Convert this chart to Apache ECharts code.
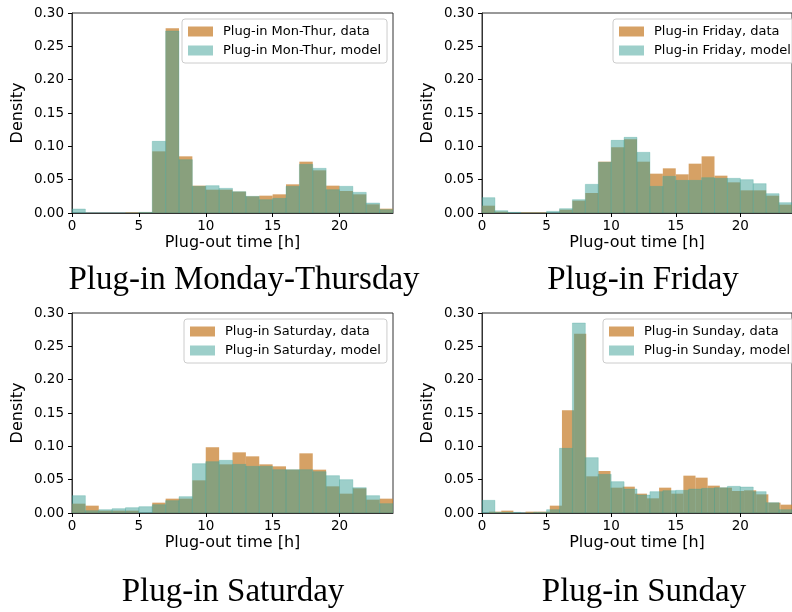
<!DOCTYPE html>
<html>
<head>
<meta charset="utf-8">
<script src="https://cdn.jsdelivr.net/npm/echarts@6/dist/echarts.min.js"></script>
<style>
  html, body { margin: 0; padding: 0; background: #fff; }
  #chart { width: 792px; height: 612px; }
</style>
</head>
<body>
<div id="chart"></div>
<script>
// hourly bins 0..24
var hourEdges = [0,1,2,3,4,5,6,7,8,9,10,11,12,13,14,15,16,17,18,19,20,21,22,23,24];
// sunday data histogram uses its own bins
var sundayDataEdges = [0.55,1.49,2.43,3.37,4.31,5.25,6.19,7.13,8.07,9.01,9.95,10.89,11.83,12.77,13.71,14.65,15.59,16.53,17.47,18.41,19.35,20.29,21.23,22.17,23.11,24.05];

var xTicks = [0, 5, 10, 15, 20];
var panelTitles = ['Plug-in Monday-Thursday', 'Plug-in Friday', 'Plug-in Saturday', 'Plug-in Sunday'];
var dataNames = ['Plug-in Mon-Thur, data', 'Plug-in Friday, data', 'Plug-in Saturday, data', 'Plug-in Sunday, data'];
var modelNames = ['Plug-in Mon-Thur, model', 'Plug-in Friday, model', 'Plug-in Saturday, model', 'Plug-in Sunday, model'];

var monThurData  = [0, 0, 0, 0, 0.001, 0.001, 0.0925, 0.277, 0.085, 0.041, 0.035, 0.035, 0.032, 0.025, 0.026, 0.028, 0.043, 0.077, 0.064, 0.041, 0.033, 0.028, 0.013, 0.0065];
var monThurModel = [0.006, 0, 0, 0, 0, 0.001, 0.1075, 0.273, 0.080, 0.040, 0.041, 0.037, 0.032, 0.025, 0.020, 0.022, 0.040, 0.073, 0.067, 0.035, 0.040, 0.031, 0.015, 0.005];

var fridayData  = [0.011, 0.002, 0, 0.001, 0.001, 0, 0.005, 0.0185, 0.030, 0.077, 0.0985, 0.1105, 0.077, 0.059, 0.067, 0.058, 0.074, 0.085, 0.056, 0.046, 0.034, 0.034, 0.026, 0.0125];
var fridayModel = [0.023, 0.0035, 0.001, 0, 0, 0.0025, 0.0065, 0.020, 0.043, 0.076, 0.109, 0.1135, 0.091, 0.040, 0.055, 0.049, 0.049, 0.053, 0.052, 0.052, 0.050, 0.044, 0.029, 0.0155];

var saturdayData  = [0.014, 0.011, 0.0035, 0.0035, 0.0035, 0, 0.0155, 0.0215, 0.0215, 0.049, 0.0985, 0.073, 0.091, 0.085, 0.073, 0.070, 0.065, 0.0895, 0.065, 0.040, 0.029, 0.037, 0.020, 0.0215];
var saturdayModel = [0.026, 0.0035, 0.005, 0.0065, 0.008, 0.0095, 0.0125, 0.0185, 0.0245, 0.074, 0.077, 0.079, 0.073, 0.070, 0.070, 0.065, 0.065, 0.065, 0.062, 0.056, 0.050, 0.038, 0.026, 0.014];

var sundayData  = [0.002, 0.0035, 0, 0.002, 0.002, 0.011, 0.154, 0.269, 0.055, 0.063, 0.038, 0.0395, 0.029, 0.022, 0.038, 0.029, 0.056, 0.053, 0.041, 0.038, 0.033, 0.034, 0.028, 0.0155, 0.0125];
var sundayModel = [0.019, 0.001, 0.001, 0, 0.001, 0.005, 0.097, 0.285, 0.083, 0.058, 0.047, 0.036, 0.027, 0.032, 0.0335, 0.034, 0.036, 0.037, 0.038, 0.040, 0.039, 0.032, 0.0155, 0.005];

var dataSets = [
    [hourEdges, monThurData, hourEdges, monThurModel],
    [hourEdges, fridayData, hourEdges, fridayModel],
    [hourEdges, saturdayData, hourEdges, saturdayModel],
    [sundayDataEdges, sundayData, hourEdges, sundayModel]
];

var dataColor = 'rgba(200,130,50,0.75)';
var modelColor = 'rgba(60,160,150,0.5)';

// panel layout
var gridLeft = [72, 482, 72, 482];
var gridTop = [13, 13, 313, 313];
var legendLeft = [182, 613, 184, 603];
var titleX = [244, 643, 233, 644];
var titleY = [264, 264, 576, 576];

function toBins(edges, heights) {
    var out = [];
    for (var i = 0; i < heights.length; i++) {
        out.push([edges[i], edges[i + 1], heights[i]]);
    }
    return out;
}

function renderBin(params, api) {
    var p0 = api.coord([api.value(0), api.value(2)]);
    var p1 = api.coord([api.value(1), 0]);
    return {
        type: 'rect',
        shape: { x: p0[0], y: p0[1], width: p1[0] - p0[0], height: p1[1] - p0[1] },
        style: api.style()
    };
}

var grid = [], xAxis = [], yAxis = [], series = [], legend = [], title = [];

for (var i = 0; i < 4; i++) {
    grid.push({
        left: gridLeft[i], top: gridTop[i], width: 321, height: 200,
        show: true, borderColor: '#333', borderWidth: 1, backgroundColor: 'transparent'
    });
    xAxis.push({
        type: 'value', gridIndex: i, min: 0, max: 24,
        name: 'Plug-out time [h]', nameLocation: 'middle', nameGap: 22,
        nameTextStyle: { fontFamily: 'DejaVu Sans', fontSize: 16, color: '#000' },
        axisLine: { lineStyle: { color: '#333', width: 1 } },
        axisTick: { show: true, length: 4, customValues: xTicks, lineStyle: { color: '#000' } },
        axisLabel: { customValues: xTicks, margin: 6, fontFamily: 'DejaVu Sans', fontSize: 13.5, color: '#000' },
        splitLine: { show: false }
    });
    yAxis.push({
        type: 'value', gridIndex: i, min: 0, max: 0.3, interval: 0.05,
        name: 'Density', nameLocation: 'middle', nameGap: 46,
        nameTextStyle: { fontFamily: 'DejaVu Sans', fontSize: 16, color: '#000' },
        axisLine: { show: true, lineStyle: { color: '#333', width: 1 } },
        axisTick: { show: true, length: 4, lineStyle: { color: '#000' } },
        axisLabel: {
            margin: 8, fontFamily: 'DejaVu Sans', fontSize: 13.5, color: '#000',
            formatter: function (v) { return v.toFixed(2); }
        },
        splitLine: { show: false }
    });
    var d = dataSets[i];
    series.push({
        name: dataNames[i], type: 'custom', xAxisIndex: i, yAxisIndex: i,
        renderItem: renderBin, clip: true,
        encode: { x: [0, 1], y: 2 },
        itemStyle: { color: dataColor },
        data: toBins(d[0], d[1])
    });
    series.push({
        name: modelNames[i], type: 'custom', xAxisIndex: i, yAxisIndex: i,
        renderItem: renderBin, clip: true,
        encode: { x: [0, 1], y: 2 },
        itemStyle: { color: modelColor, borderColor: 'rgba(60,160,150,0.45)', borderWidth: 0.6 },
        data: toBins(d[2], d[3])
    });
    legend.push({
        data: [dataNames[i], modelNames[i]],
        orient: 'vertical', left: legendLeft[i], top: gridTop[i] + 6,
        itemWidth: 25, itemHeight: 10, itemGap: 6, icon: 'rect',
        padding: [6, 6, 6, 6],
        itemStyle: { borderWidth: 0 },
        backgroundColor: 'rgba(255,255,255,0.8)', borderColor: '#ccc', borderWidth: 1, borderRadius: 3,
        textStyle: { fontFamily: 'DejaVu Sans', fontSize: 13, color: '#000', padding: [0, 10, 0, 5] },
        selectedMode: false
    });
    title.push({
        text: panelTitles[i], left: titleX[i], top: titleY[i], textAlign: 'center', padding: 0,
        textStyle: { fontFamily: 'Liberation Serif', fontWeight: 'normal', fontSize: 33, color: '#000' }
    });
}

var chart = echarts.init(document.getElementById('chart'));
chart.setOption({
    animation: false,
    title: title,
    legend: legend,
    grid: grid,
    xAxis: xAxis,
    yAxis: yAxis,
    series: series
});
</script>
</body>
</html>
